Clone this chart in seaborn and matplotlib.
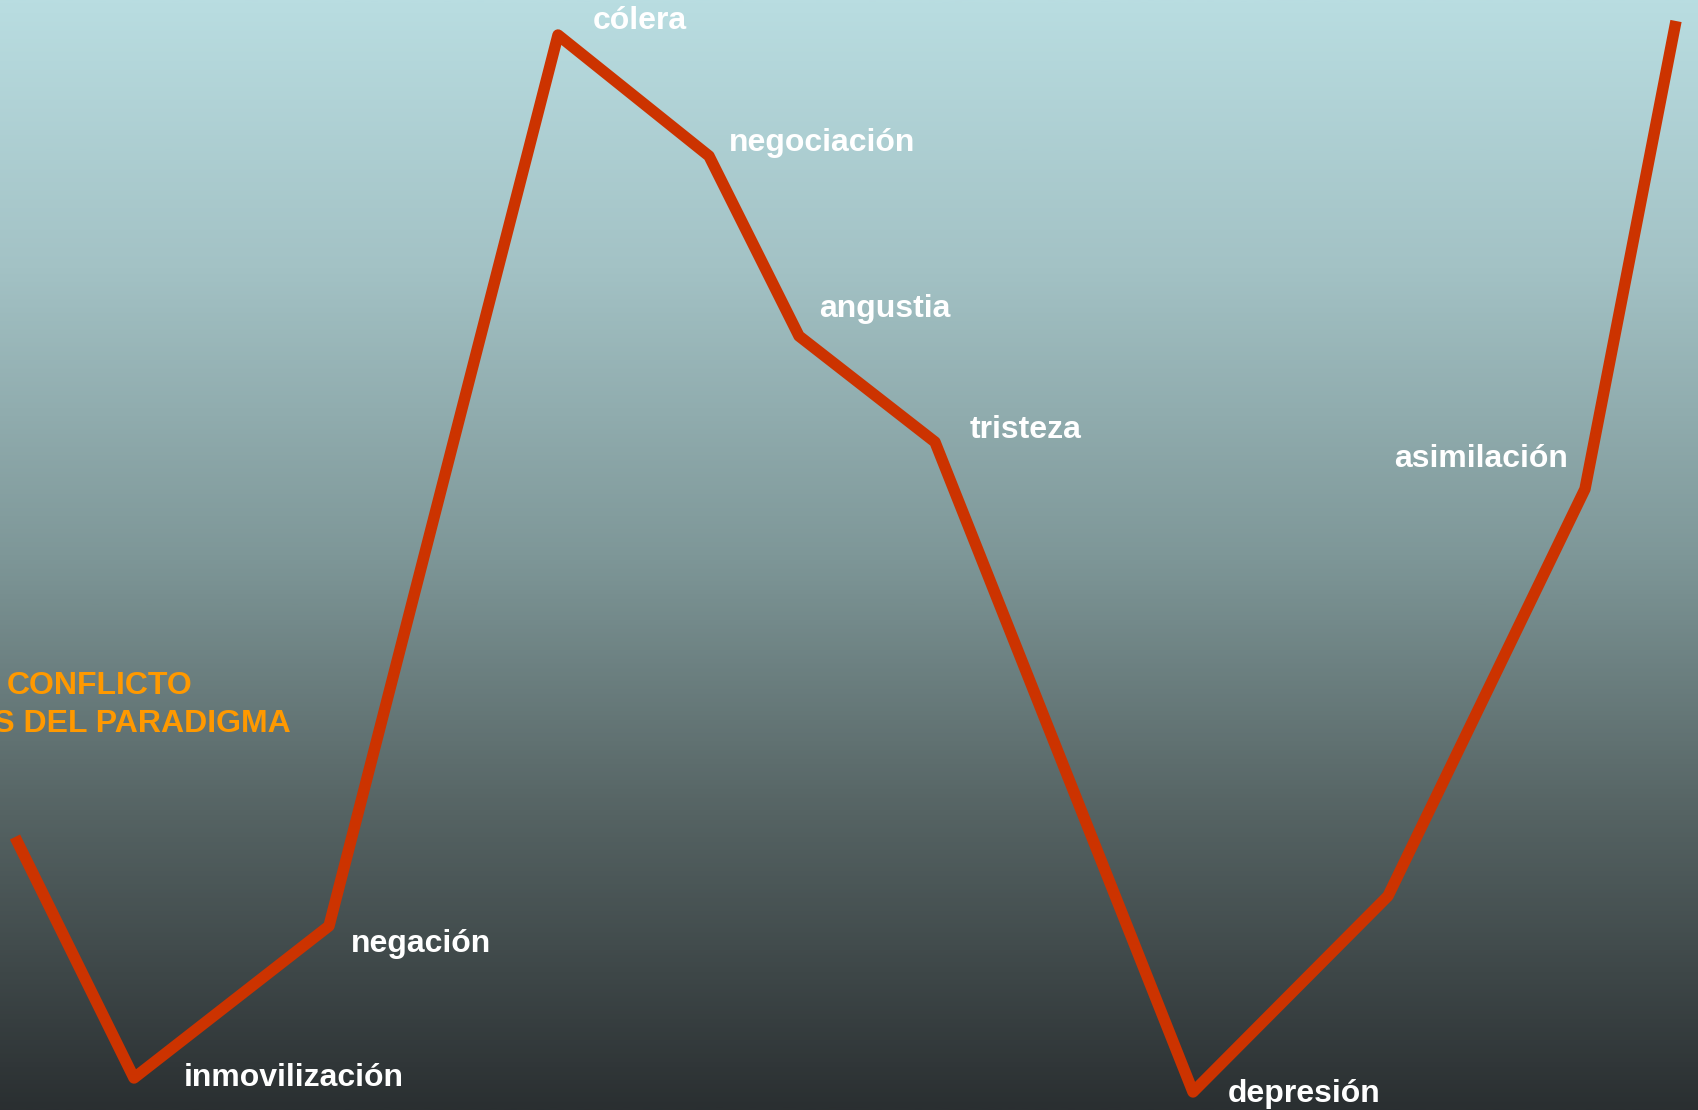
import numpy as np
import pandas as pd
import seaborn as sns
import matplotlib.pyplot as plt
from matplotlib.colors import LinearSegmentedColormap

# curve vertices (x position, level; level measured downward from the top)
pos_x = [15, 134, 329, 558, 709, 799, 935, 1193, 1388, 1585, 1676]
level = [837, 1078, 926, 35, 156, 336, 442, 1092, 896, 489, 21]
stage = ["", "inmovilización", "negación", "cólera", "negociación",
         "angustia", "tristeza", "depresión", "", "asimilación", ""]

# label offsets (pixels) from each vertex
label_dx = [0, 50, 22, 35, 20, 20, 35, 35, 0, -191, 0]
label_dy = [0, 0, 18, -14, -13, -27, -12, 2, 0, -30, 0]

bg_colors = ["#b9dde1", "#a3c2c5", "#7e9798", "#566464", "#2a2f31"]
bg_stops = [0.0, 0.24, 0.5, 0.73, 1.0]

df = pd.DataFrame({"x": pos_x, "y": level})

sns.set_style("white")
plt.rcParams["font.family"] = ["Liberation Sans", "DejaVu Sans"]

fig = plt.figure(figsize=(16.99, 11.10), dpi=100)
ax = fig.add_axes([0, 0, 1, 1])

# vertical background gradient
cmap = LinearSegmentedColormap.from_list("bg", list(zip(bg_stops, bg_colors)))
grad = np.linspace(0, 1, 512).reshape(-1, 1)
ax.imshow(grad, cmap=cmap, aspect="auto", extent=[0, 1699, 1110, 0], zorder=0)

sns.lineplot(data=df, x="x", y="y", color="#cc3300", linewidth=8.2, ax=ax,
             sort=False, zorder=2)
for ln in ax.lines:
    ln.set_solid_capstyle("butt")
    ln.set_solid_joinstyle("round")

for x, y, s, dx, dy in zip(pos_x, level, stage, label_dx, label_dy):
    if s:
        ax.text(x + dx, y + dy, s, color="white", fontsize=23,
                fontweight="bold", ha="left", va="center", zorder=3)

ax.text(7, 686, "CONFLICTO", color="#ff9900", fontsize=23,
        fontweight="bold", ha="left", va="center", zorder=3)
ax.text(291, 724, "CRISIS DEL PARADIGMA", color="#ff9900", fontsize=23,
        fontweight="bold", ha="right", va="center", zorder=3)

ax.set_xlim(0, 1699)
ax.set_ylim(1110, 0)
ax.axis("off")

plt.savefig("out.png", dpi=100)
